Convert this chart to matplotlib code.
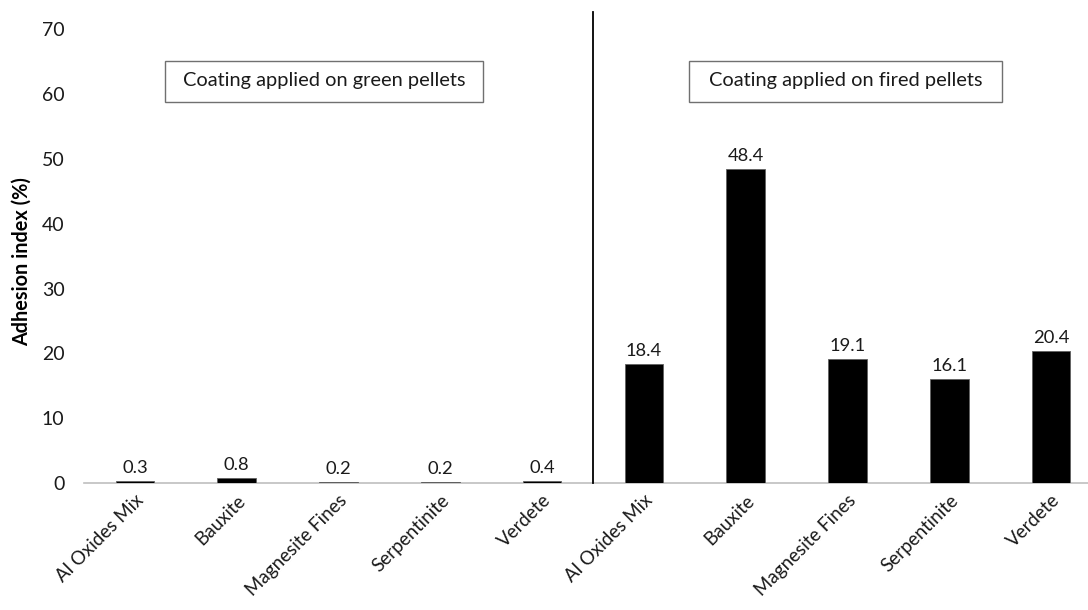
import matplotlib
matplotlib.use("Agg")
import matplotlib.pyplot as plt
from matplotlib.patches import Rectangle

plt.rcParams['font.family'] = ['Lato', 'DejaVu Sans']

categories = ["Al Oxides Mix", "Bauxite", "Magnesite Fines", "Serpentinite", "Verdete",
              "Al Oxides Mix", "Bauxite", "Magnesite Fines", "Serpentinite", "Verdete"]
values = [0.3, 0.8, 0.2, 0.2, 0.4, 18.4, 48.4, 19.1, 16.1, 20.4]
value_labels = ["0.3", "0.8", "0.2", "0.2", "0.4", "18.4", "48.4", "19.1", "16.1", "20.4"]
group_titles = ["Coating applied on green pellets", "Coating applied on fired pellets"]
y_ticks = [0, 10, 20, 30, 40, 50, 60, 70]

fig = plt.figure(figsize=(10.88, 6.10), dpi=100)
left = 84 / 1088
right = 1102 / 1088
bottom = (610 - 483.3) / 610
top = (610 - 12) / 610
ax = fig.add_axes([left, bottom, right - left, top - bottom])

x = list(range(len(categories)))
ax.bar(x, values, width=0.38, color='black', edgecolor='#606060', linewidth=0.6, zorder=3)

for xi, v, lab in zip(x, values, value_labels):
    ax.annotate(lab, (xi, v), xytext=(0, 3.5), textcoords='offset points',
                ha='center', va='bottom', fontsize=13.2, color='#1a1a1a')

ax.set_xlim(-0.5, 9.5)
ax.set_ylim(0, 72.6)
ax.set_yticks(y_ticks)
ax.set_yticklabels([str(t) for t in y_ticks], fontsize=14, color='#1a1a1a')
ax.set_xticks(x)
ax.set_xticklabels(categories, rotation=45, ha='right', rotation_mode='anchor',
                   fontsize=13.5, color='#1a1a1a')
ax.tick_params(axis='both', length=0)
ax.tick_params(axis='y', pad=14)
ax.tick_params(axis='x', pad=6)

for s in ['top', 'right', 'left']:
    ax.spines[s].set_visible(False)
ax.spines['bottom'].set_color('#bfbfbf')
ax.spines['bottom'].set_linewidth(1.2)

ax.set_ylabel("Adhesion index (%)", fontsize=14.3, fontweight='bold')
ax.yaxis.set_label_coords(-0.051, 0.4695)

# divider
ax.plot([4.5, 4.5], [0, 72.6], color='black', lw=1.3, zorder=4, clip_on=False)

# group boxes
boxes = [(0.296, 3.42), (5.44, 8.52)]
for (x0, x1), title in zip(boxes, group_titles):
    ax.add_patch(Rectangle((x0, 58.8), x1 - x0, 6.3, facecolor='white',
                           edgecolor='#707070', lw=1.0, zorder=5))
    ax.text((x0 + x1) / 2, 62.0, title, ha='center', va='center', fontsize=14.4,
            color='#1a1a1a', zorder=6)

fig.savefig("out.png", dpi=100)
